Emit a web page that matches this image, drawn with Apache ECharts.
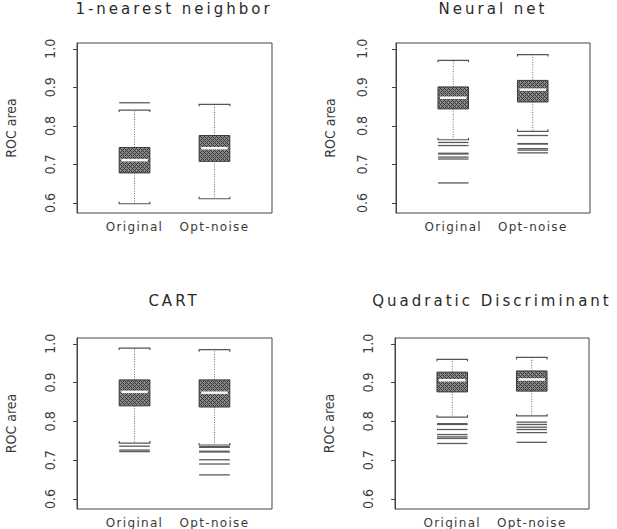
<!DOCTYPE html>
<html>
<head>
<meta charset="utf-8">
<script src="https://cdn.jsdelivr.net/npm/echarts@6/dist/echarts.min.js"></script>
<style>
  html, body { margin: 0; padding: 0; background: #fff; }
  #chart { width: 617px; height: 529px; }
  /* wide, letter-spaced look of the original device fonts */
  #chart text[style*="Verdana"] { letter-spacing: 3px; }
  #chart text[style*="Tahoma"] { letter-spacing: 1.3px; }
</style>
</head>
<body>
<div id="chart"></div>
<script>
// ---------------- data ----------------
const categories = ['Original', 'Opt-noise'];
const panelTitles = ['1-nearest neighbor', 'Neural net', 'CART', 'Quadratic Discriminant'];
const yTicks = [0.6, 0.7, 0.8, 0.9, 1.0];
const yAxisName = 'ROC area';

// each stat: [lower whisker, Q1, median, Q3, upper whisker]
const knnStats = [[0.598, 0.678, 0.711, 0.744, 0.841], [0.611, 0.708, 0.742, 0.775, 0.856]];
const knnOutliers = [[0.860], []];

const nnStats = [[0.764, 0.844, 0.873, 0.901, 0.970], [0.786, 0.862, 0.894, 0.918, 0.985]];
const nnOutliers = [[0.757, 0.749, 0.729, 0.727, 0.719, 0.714, 0.652],
                    [0.775, 0.754, 0.753, 0.741, 0.737, 0.730]];

const cartStats = [[0.744, 0.840, 0.876, 0.907, 0.989], [0.739, 0.837, 0.874, 0.907, 0.985]];
const cartOutliers = [[0.736, 0.726, 0.722],
                      [0.735, 0.733, 0.723, 0.721, 0.701, 0.690, 0.662]];

const qdaStats = [[0.811, 0.876, 0.906, 0.927, 0.960], [0.814, 0.878, 0.908, 0.930, 0.965]];
const qdaOutliers = [[0.794, 0.792, 0.779, 0.766, 0.760, 0.756, 0.743],
                     [0.798, 0.792, 0.785, 0.779, 0.771, 0.746]];

const allStats = [knnStats, nnStats, cartStats, qdaStats];
const allOutliers = [knnOutliers, nnOutliers, cartOutliers, qdaOutliers];

// ---------------- layout / style ----------------
const Y_MIN = 0.574, Y_MAX = 1.015;
const X_MIN = 0.28, X_MAX = 2.72;
const BOX_HALF = 0.192;
const grids = [
  { left: 77, top: 43, width: 195, height: 170, labelMargin: 20, titleX: 174, titleY: 1 },
  { left: 396, top: 43, width: 194, height: 170, labelMargin: 27, titleX: 493, titleY: 1 },
  { left: 77, top: 338, width: 195, height: 171, labelMargin: 20, titleX: 174, titleY: 293 },
  { left: 395, top: 338, width: 194, height: 171, labelMargin: 20, titleX: 492, titleY: 293 }
];

// crosshatch fill for the boxes
function makeHatch() {
  const c = document.createElement('canvas');
  c.width = 4; c.height = 4;
  const ctx = c.getContext('2d');
  ctx.fillStyle = '#888888';
  ctx.fillRect(0, 0, 4, 4);
  ctx.fillStyle = '#383838';
  for (let x = 0; x < 4; x++) {
    for (let y = 0; y < 4; y++) {
      if ((x + y) % 4 === 0 || ((x - y) + 4) % 4 === 0) ctx.fillRect(x, y, 1, 1);
    }
  }
  return c;
}
const hatch = { image: makeHatch(), repeat: 'repeat' };

function renderBox(params, api) {
  const x = api.value(0);
  const lo = api.value(1), q1 = api.value(2), md = api.value(3), q3 = api.value(4), hi = api.value(5);
  const tl = api.coord([x - BOX_HALF, q3]);
  const br = api.coord([x + BOX_HALF, q1]);
  const pMed = api.coord([x, md]);
  const pLo = api.coord([x, lo]);
  const pHi = api.coord([x, hi]);
  const cx = api.coord([x, q1])[0];
  const xl = tl[0], xr = br[0];
  const whisk = { stroke: '#6a6a6a', lineWidth: 1, lineDash: [1, 1.5] };
  const cap = { stroke: '#555', lineWidth: 1.2, fill: null };
  return {
    type: 'group',
    children: [
      { type: 'line', shape: { x1: cx, y1: tl[1], x2: cx, y2: pHi[1] }, style: whisk },
      { type: 'line', shape: { x1: cx, y1: br[1], x2: cx, y2: pLo[1] }, style: whisk },
      { type: 'polyline', shape: { points: [[xl, pHi[1] + 2], [xl, pHi[1]], [xr, pHi[1]], [xr, pHi[1] + 2]] }, style: cap },
      { type: 'polyline', shape: { points: [[xl, pLo[1] - 2], [xl, pLo[1]], [xr, pLo[1]], [xr, pLo[1] - 2]] }, style: cap },
      { type: 'rect', shape: { x: xl, y: tl[1], width: xr - xl, height: br[1] - tl[1] },
        style: { fill: hatch, stroke: '#3a3a3a', lineWidth: 1 } },
      { type: 'line', shape: { x1: xl + 2, y1: pMed[1], x2: xr - 2, y2: pMed[1] },
        style: { stroke: '#f6f6f6', lineWidth: 2.5 } }
    ]
  };
}

function renderOutlier(params, api) {
  const x = api.value(0), v = api.value(1);
  const a = api.coord([x - BOX_HALF, v]);
  const b = api.coord([x + BOX_HALF, v]);
  return { type: 'line', shape: { x1: a[0], y1: a[1], x2: b[0], y2: b[1] },
           style: { stroke: '#5a5a5a', lineWidth: 1.3 } };
}

const option = {
  animation: false,
  backgroundColor: '#fff',
  title: [], grid: [], xAxis: [], yAxis: [], series: []
};

grids.forEach((g, i) => {
  option.title.push({
    text: panelTitles[i], left: g.titleX, top: g.titleY, textAlign: 'center', padding: 0,
    textStyle: { fontFamily: "Verdana, 'DejaVu Sans', sans-serif", fontSize: 15, fontWeight: 'normal', color: '#2a2a2a' }
  });
  option.grid.push({ left: g.left, top: g.top, width: g.width, height: g.height,
    show: true, borderColor: '#444', borderWidth: 1, backgroundColor: 'transparent' });
  option.xAxis.push({
    type: 'value', gridIndex: i, min: X_MIN, max: X_MAX,
    axisLine: { show: false }, axisTick: { show: false }, splitLine: { show: false },
    axisLabel: {
      customValues: [1, 2], margin: 8,
      formatter: v => categories[Math.round(v) - 1] || '',
      fontFamily: "Tahoma, 'DejaVu Sans', sans-serif", fontSize: 12, color: '#3a3a3a'
    }
  });
  option.yAxis.push({
    type: 'value', gridIndex: i, min: Y_MIN, max: Y_MAX,
    name: yAxisName, nameLocation: 'middle', nameRotate: 90, nameGap: 59,
    nameTextStyle: { fontFamily: "'Liberation Sans Narrow', 'DejaVu Sans Condensed', sans-serif", fontSize: 14, color: '#3a3a3a' },
    axisLine: { show: true, lineStyle: { color: '#444' } },
    axisTick: { show: true, length: 4, customValues: yTicks, lineStyle: { color: '#444' } },
    splitLine: { show: false },
    axisLabel: {
      customValues: yTicks, rotate: 90, margin: g.labelMargin,
      formatter: v => v.toFixed(1),
      fontFamily: "'Liberation Sans Narrow', 'DejaVu Sans Condensed', sans-serif", fontSize: 14, color: '#3a3a3a'
    }
  });
  const stats = allStats[i];
  option.series.push({
    type: 'custom', xAxisIndex: i, yAxisIndex: i,
    renderItem: renderBox,
    data: stats.map((s, k) => [k + 1].concat(s)),
    encode: { x: 0, y: [1, 2, 3, 4, 5] }
  });
  const outs = [];
  allOutliers[i].forEach((list, k) => list.forEach(v => outs.push([k + 1, v])));
  option.series.push({
    type: 'custom', xAxisIndex: i, yAxisIndex: i,
    renderItem: renderOutlier,
    data: outs,
    encode: { x: 0, y: 1 }
  });
});

const chart = echarts.init(document.getElementById('chart'), null, { renderer: 'svg' });
chart.setOption(option);
</script>
</body>
</html>
